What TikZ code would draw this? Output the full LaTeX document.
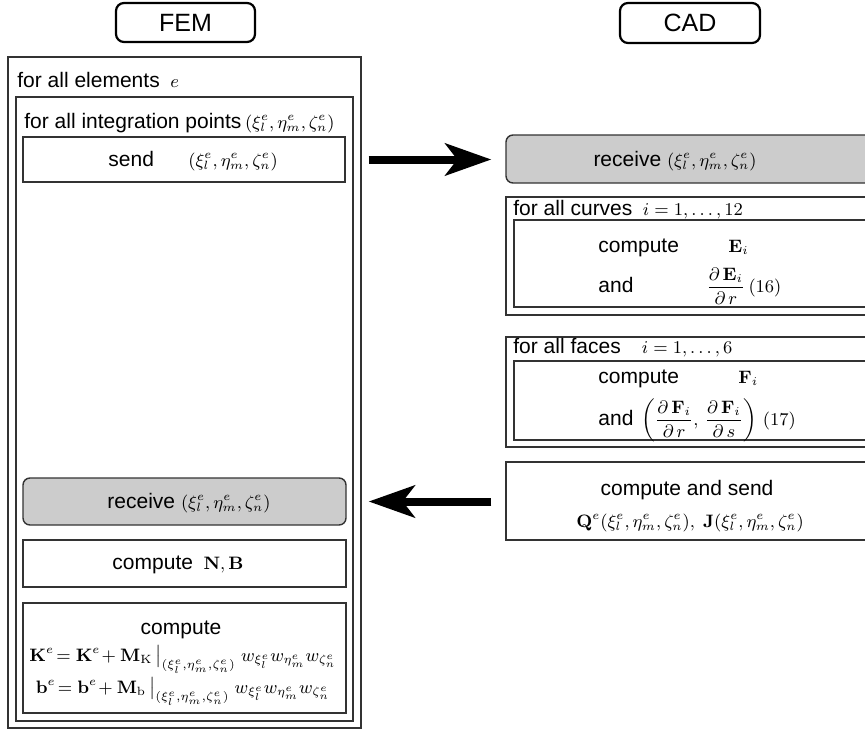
\documentclass[tikz,border=0pt]{standalone}
\usepackage{amsmath}
\usepackage[no-math]{fontspec}
\setmainfont{Liberation Sans}
\usetikzlibrary{arrows.meta,fit}
% formulas are set a little smaller than the surrounding text
\newcommand\mth[1]{{\fontsize{9.2}{11}\selectfont$#1$}}
\newcommand\gausspt{(\xi_l^e,\eta_m^e,\zeta_n^e)}
\newcommand\weights{w_{\xi_l^e}w_{\eta_m^e}w_{\zeta_n^e}}
\begin{document}
\begin{tikzpicture}[x=0.5pt,y=-0.5pt,
  frame/.style={draw=black!80,line width=0.7pt,inner sep=0pt},
  shaded/.style={frame,rounded corners=3.5pt,fill=black!20},
  header/.style={draw=black,line width=1.1pt,rounded corners=4pt,inner sep=0pt},
  txt/.style={inner sep=0pt,font=\fontsize{10.5}{12.6}\selectfont},
  headtxt/.style={inner sep=0pt,font=\fontsize{12.5}{15}\selectfont},
  bigarrow/.style={line width=4pt,-{Stealth[length=23pt,width=16pt,inset=6pt]}}]
\clip (0,0) rectangle (865,733);

% ---------------- FEM side ----------------
\node[header,fit={(116,3) (255,42)}] (fem) {};
\node[headtxt] (femlabel) at (fem.center) {FEM};

\node[frame,fit={(8,57) (361,728)}] (elements) {};
\node[txt,anchor=base west] (elementstitle) at (17,88) {for all elements\enspace\mth{e}};

\node[frame,fit={(16,97) (353,721)}] (points) {};
\node[txt,anchor=base west] (pointstitle) at (24,128) {for all integration points\,\mth{\gausspt}};

\node[frame,fit={(23,137) (345,182)}] (send) {};
\node[txt,anchor=base west] (sendlabel) at (108,166) {send};
\node[txt,anchor=base west] (sendpt) at (188,166) {\mth{\gausspt}};

\node[shaded,fit={(23,478) (346,525)}] (recvL) {};
\node[txt,anchor=base] (recvLlabel) at (189,508) {receive \mth{\gausspt}};

\node[frame,fit={(23,540) (346,587)}] (nb) {};
\node[txt,anchor=base] (nblabel) at (178,569) {compute\enspace\mth{\mathbf{N},\mathbf{B}}};

\node[frame,fit={(23,603) (346,713)}] (assemble) {};
\node[txt,anchor=base] (assemblelabel) at (181,634) {compute};
\node[txt,anchor=base] (keq) at (183,661)
  {\mth{\mathbf{K}^e\!=\mathbf{K}^e\!+\mathbf{M}_{\mathrm{K}}\,\big|_{\gausspt}\;\weights}};
\node[txt,anchor=base] (beq) at (183,693)
  {\mth{\mathbf{b}^e\!=\mathbf{b}^e\!+\mathbf{M}_{\mathrm{b}}\,\big|_{\gausspt}\;\weights}};

% ---------------- CAD side ----------------
\node[header,fit={(620,3) (760,43)}] (cad) {};
\node[headtxt] (cadlabel) at (cad.center) {CAD};

\node[shaded,fit={(506,135) (880,183)}] (recvR) {};
\node[txt,anchor=base] (recvRlabel) at (675,166) {receive \mth{\gausspt}};

\node[frame,fit={(506,197) (880,315)}] (curves) {};
\node[txt,anchor=base west] (curvestitle) at (513,215) {for all curves\enspace\mth{i=1,\ldots,12}};
\node[frame,fit={(514,220) (880,307)}] (curvesbody) {};
\node[txt,anchor=base west] (curvescomp) at (598,252) {compute};
\node[txt,anchor=base west] (curvesE) at (728,252) {\mth{\mathbf{E}_i}};
\node[txt,anchor=base west] (curvesand) at (598,292) {and};
\node[txt,anchor=base west] (curvesdE) at (706,292)
  {\mth{\dfrac{\partial\,\mathbf{E}_i}{\partial\,r}\,(16)}};

\node[frame,fit={(506,337) (880,447)}] (faces) {};
\node[txt,anchor=base west] (facestitle) at (513,353) {for all faces\quad\mth{i=1,\ldots,6}};
\node[frame,fit={(514,361) (880,440)}] (facesbody) {};
\node[txt,anchor=base west] (facescomp) at (598,383) {compute};
\node[txt,anchor=base west] (facesF) at (738,383) {\mth{\mathbf{F}_i}};
\node[txt,anchor=base west] (facesand) at (598,425) {and};
\node[txt,anchor=base west] (facesdF) at (641,425)
  {\mth{\left(\dfrac{\partial\,\mathbf{F}_i}{\partial\,r},\,\dfrac{\partial\,\mathbf{F}_i}{\partial\,s}\right)\,(17)}};

\node[frame,fit={(506,462) (880,540)}] (cadsend) {};
\node[txt,anchor=base] (cadsendlabel) at (687,495) {compute and send};
\node[txt,anchor=base] (cadsendeq) at (690,527)
  {\mth{\mathbf{Q}^e\gausspt,\;\mathbf{J}\gausspt}};

% ---------------- data exchange ----------------
\draw[bigarrow,shorten <=3.5pt,shorten >=7pt]
  (elements.east |- send.east) -- (recvR.west |- send.east);
\draw[bigarrow,shorten <=7pt,shorten >=3.5pt]
  (cadsend.west |- recvL.east) -- (elements.east |- recvL.east);
\end{tikzpicture}
\end{document}
